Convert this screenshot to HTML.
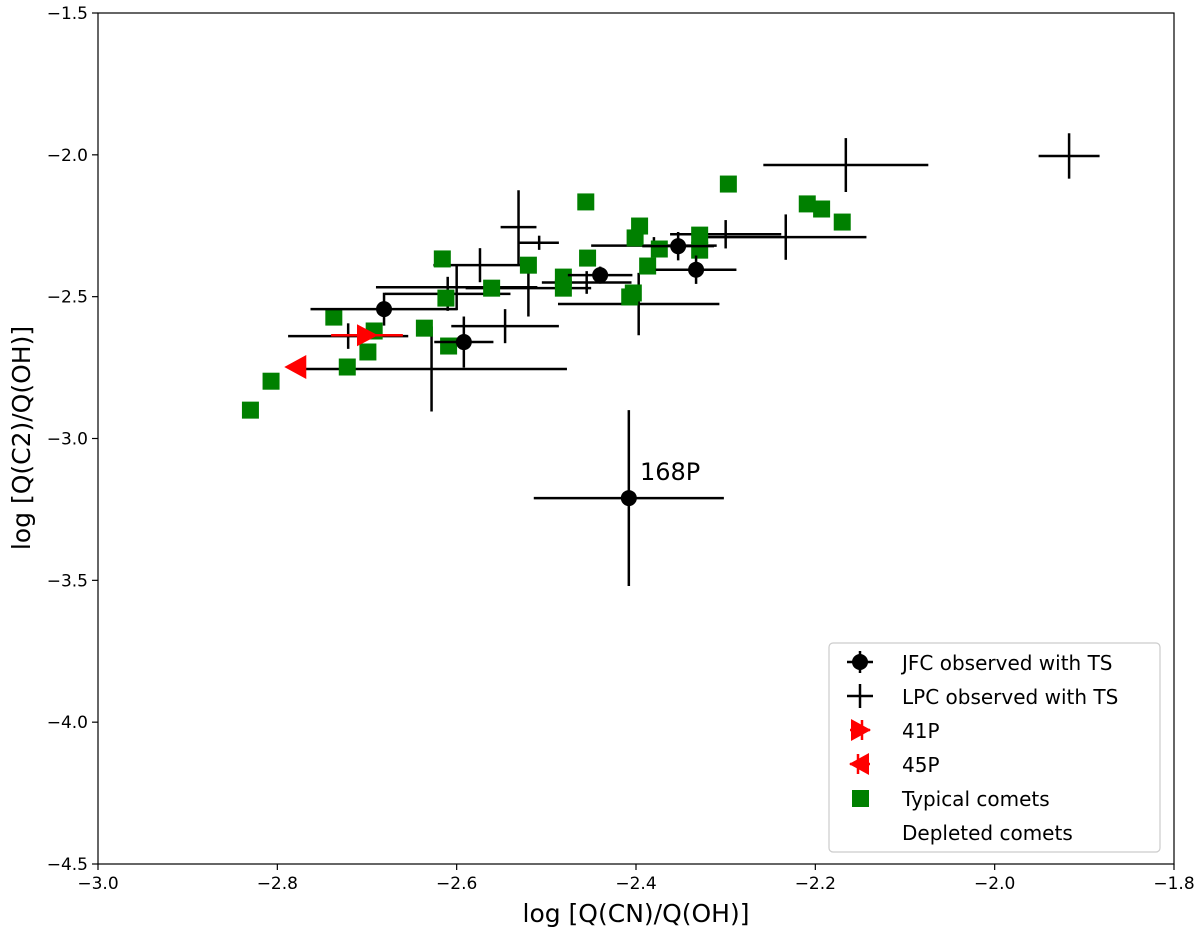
<!DOCTYPE html>
<html><head><meta charset="utf-8"><style>
html,body{margin:0;padding:0;background:#fff;}
svg{display:block;font-family:"DejaVu Sans","Liberation Sans",sans-serif;}
</style></head><body>
<svg id="chart" width="1200" height="939" viewBox="0 0 1200 939">
<rect x="98" y="13" width="1076" height="851" fill="#fff" stroke="#000" stroke-width="1.2"/>
<g id="ticks"></g>
<g id="marks"></g>
<text x="640" y="480" font-size="24">168P</text>
<text x="636" y="922" font-size="25" text-anchor="middle">log [Q(CN)/Q(OH)]</text>
<text transform="translate(30,438) rotate(-90)" font-size="25" text-anchor="middle">log [Q(C2)/Q(OH)]</text>
<g>
<rect x="829" y="643" width="331" height="209" rx="4" fill="#fff" stroke="#ccc" stroke-width="1.2"/>
<g>
<line x1="847" y1="662" x2="873" y2="662" stroke="#000" stroke-width="2.5"/><line x1="860" y1="651" x2="860" y2="673" stroke="#000" stroke-width="2.5"/><circle cx="860" cy="662" r="8"/>
<text x="902" y="670" font-size="20">JFC observed with TS</text></g>
<g>
<line x1="847" y1="696" x2="873" y2="696" stroke="#000" stroke-width="2.5"/><line x1="860" y1="684" x2="860" y2="708" stroke="#000" stroke-width="2.5"/>
<text x="902" y="704" font-size="20">LPC observed with TS</text></g>
<g>
<line x1="850" y1="730" x2="870" y2="730" stroke="red" stroke-width="2.5"/><line x1="862" y1="720" x2="862" y2="740" stroke="red" stroke-width="2.5"/><polygon points="851,719 871,730 851,741" fill="red"/>
<text x="902" y="738" font-size="20">41P</text></g>
<g>
<line x1="850" y1="764" x2="870" y2="764" stroke="red" stroke-width="2.5"/><line x1="858" y1="754" x2="858" y2="774" stroke="red" stroke-width="2.5"/><polygon points="869,753 849,764 869,775" fill="red"/>
<text x="902" y="772" font-size="20">45P</text></g>
<g>
<rect x="852" y="790" width="17" height="17" fill="#008000"/>
<text x="902" y="806" font-size="20">Typical comets</text></g>
<g>
<text x="902" y="840" font-size="20">Depleted comets</text></g>
</g>
</svg>
<script>
const xTicks=[-3.0,-2.8,-2.6,-2.4,-2.2,-2.0,-1.8];
const yTicks=[-1.5,-2.0,-2.5,-3.0,-3.5,-4.0,-4.5];
const jfcX=[-2.681,-2.592,-2.440,-2.353,-2.333,-2.408];
const jfcY=[-2.544,-2.660,-2.424,-2.322,-2.405,-3.210];
const jfcXErr=[0.082,0.033,0.036,0.04,0.045,0.106];
const jfcYErr=[0.058,0.09,0.03,0.05,0.05,0.31];
const lpcX=[-1.917,-2.166,-2.233,-2.531,-2.508,-2.574,-2.600,-2.610,-2.520,-2.397,-2.546,-2.628,-2.721,-2.300,-2.380,-2.455];
const lpcY=[-2.004,-2.036,-2.290,-2.255,-2.310,-2.389,-2.467,-2.490,-2.470,-2.526,-2.604,-2.755,-2.639,-2.280,-2.320,-2.450];
const lpcXErr=[0.034,0.092,0.09,0.02,0.022,0.052,0.09,0.07,0.07,0.09,0.06,0.151,0.067,0.062,0.07,0.05];
const lpcYErr=[0.08,0.095,0.08,0.13,0.025,0.06,0.08,0.06,0.1,0.11,0.06,0.15,0.045,0.05,0.03,0.04];
const p41X=[-2.700],p41Y=[-2.636],p41XErr=[0.04];
const p45X=[-2.780],p45Y=[-2.748];
const typX=[-2.830,-2.807,-2.737,-2.692,-2.699,-2.722,-2.636,-2.616,-2.612,-2.609,-2.561,-2.520,-2.481,-2.481,-2.456,-2.454,-2.396,-2.401,-2.374,-2.387,-2.407,-2.403,-2.329,-2.329,-2.297,-2.209,-2.193,-2.170];
const typY=[-2.900,-2.798,-2.572,-2.621,-2.695,-2.748,-2.611,-2.367,-2.505,-2.674,-2.470,-2.389,-2.431,-2.470,-2.166,-2.364,-2.251,-2.293,-2.332,-2.392,-2.501,-2.487,-2.283,-2.336,-2.103,-2.173,-2.191,-2.237];

const NS='http://www.w3.org/2000/svg';
const X0=98,X1=1174,Y0=864,Y1=13;
function sx(v){return X0+(v+3.0)/1.2*(X1-X0);}
function sy(v){return Y0-(v+4.5)/3.0*(Y0-Y1);}
function mk(tag,attrs,parent){const e=document.createElementNS(NS,tag);for(const k in attrs)e.setAttribute(k,attrs[k]);parent.appendChild(e);return e;}
const tk=document.getElementById('ticks'),mg=document.getElementById('marks');
xTicks.forEach(v=>{const g=mk('g',{},tk);


mk('line',{x1:sx(v),x2:sx(v),y1:Y0,y2:Y0+6,stroke:'#000','stroke-width':1.2},g);
const t=mk('text',{x:sx(v),y:Y0+25,'font-size':17,'text-anchor':'middle'},g);t.textContent=(v<0?'\u2212':'')+Math.abs(v).toFixed(1);});
yTicks.forEach(v=>{const g=mk('g',{},tk);


mk('line',{x1:X0-6,x2:X0,y1:sy(v),y2:sy(v),stroke:'#000','stroke-width':1.2},g);
const t=mk('text',{x:X0-10,y:sy(v)+6,'font-size':17,'text-anchor':'end'},g);t.textContent=(v<0?'\u2212':'')+Math.abs(v).toFixed(1);});
function errbar(g,x,y,xe,ye,col){
 mk('line',{x1:sx(x-xe),x2:sx(x+xe),y1:sy(y),y2:sy(y),stroke:col,'stroke-width':2.5},g);
 if(ye>0)mk('line',{x1:sx(x),x2:sx(x),y1:sy(y-ye),y2:sy(y+ye),stroke:col,'stroke-width':2.5},g);}
lpcX.forEach((x,i)=>{const g=mk('g',{},mg);


errbar(g,x,lpcY[i],lpcXErr[i],lpcYErr[i],'#000');});
typX.forEach((x,i)=>{const r=mk('rect',{x:sx(x)-8.5,y:sy(typY[i])-8.5,width:17,height:17,fill:'#008000'},mg);

});
jfcX.forEach((x,i)=>{const g=mk('g',{},mg);


errbar(g,x,jfcY[i],jfcXErr[i],jfcYErr[i],'#000');mk('circle',{cx:sx(x),cy:sy(jfcY[i]),r:8},g);});
p41X.forEach((x,i)=>{const g=mk('g',{},mg);


errbar(g,x,p41Y[i],p41XErr[i],0,'red');const cx=sx(x),cy=sy(p41Y[i]);
mk('polygon',{points:`${cx-10},${cy-11} ${cx+11},${cy} ${cx-10},${cy+11}`,fill:'red'},g);});
p45X.forEach((x,i)=>{const g=mk('g',{},mg);


const cx=sx(x),cy=sy(p45Y[i]);
mk('polygon',{points:`${cx+11},${cy-12} ${cx-11},${cy} ${cx+11},${cy+12}`,fill:'red'},g);});
</script>
</body></html>
